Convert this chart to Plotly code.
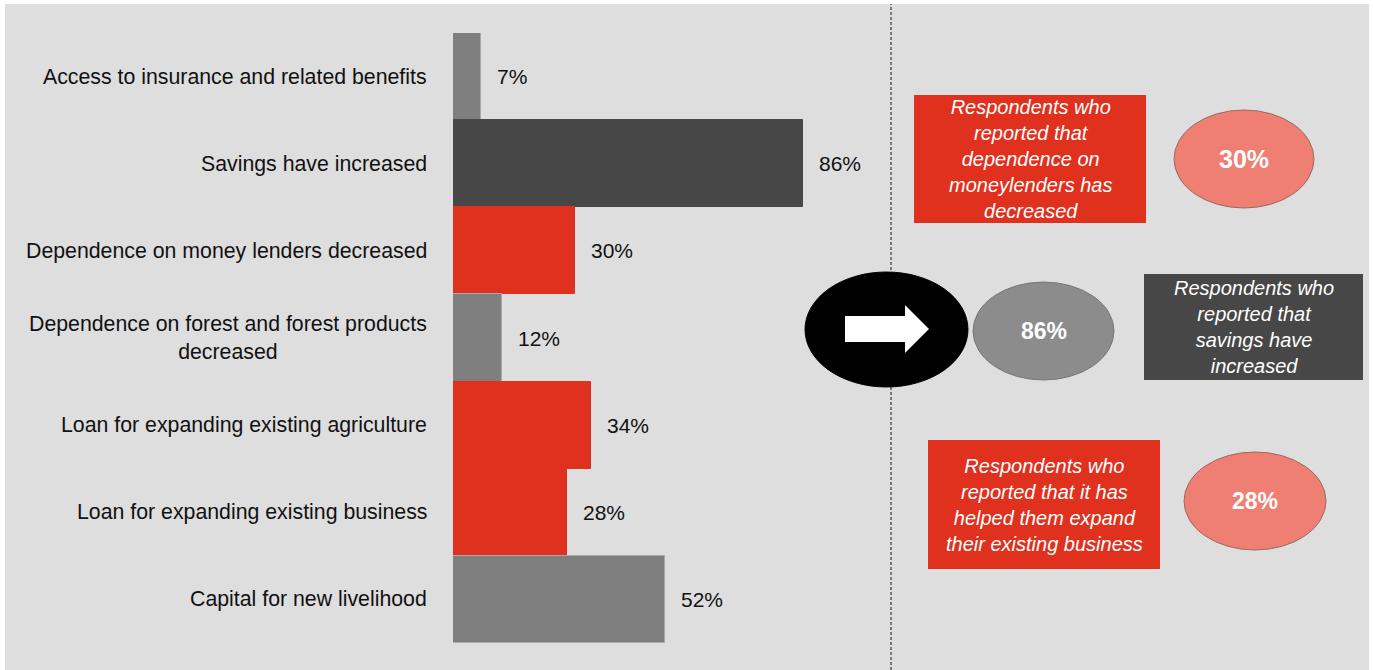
import plotly.graph_objects as go

# Survey results: share of respondents reporting each benefit
categories = [
    "Access to insurance and related benefits",
    "Savings have increased",
    "Dependence on money lenders decreased",
    "Dependence on forest and forest products<br>decreased",
    "Loan for expanding existing agriculture",
    "Loan for expanding existing business",
    "Capital for new livelihood",
]
values = [7, 86, 30, 12, 34, 28, 52]

GREY = "#7f7f7f"
DARK = "#474747"
RED = "#e0301e"
PINK = "#ee7f72"
bar_colors = [GREY, DARK, RED, GREY, RED, RED, GREY]
bar_lines = ["#a8a8a8", DARK, RED, "#a8a8a8", RED, RED, "#a8a8a8"]

W, H = 1374, 670
FONT = "Liberation Sans, Arial, sans-serif"


def fx(p):
    return p / W


def fy(p):
    return 1 - p / H


fig = go.Figure(
    go.Bar(
        x=values,
        y=categories,
        orientation="h",
        marker=dict(color=bar_colors, line=dict(color=bar_lines, width=1)),
        hoverinfo="skip",
    )
)

annotations = []
for cat, v in zip(categories, values):
    annotations.append(dict(
        x=fx(429), xref="paper", y=cat, yref="y", text=cat,
        xanchor="right", yanchor="middle", align="center", showarrow=False,
        font=dict(family=FONT, size=21.3, color="#111111"),
    ))
    annotations.append(dict(
        x=v, xref="x", y=cat, yref="y", text=f"{v}%",
        xanchor="left", yanchor="middle", xshift=14, showarrow=False,
        font=dict(family=FONT, size=21, color="#111111"),
    ))

shapes = [
    # panel background
    dict(type="rect", xref="paper", yref="paper", x0=fx(5), x1=fx(1369),
         y0=fy(670), y1=fy(4), fillcolor="#dedede", line_width=0, layer="below"),
    # divider
    dict(type="line", xref="paper", yref="paper", x0=fx(891), x1=fx(891),
         y0=fy(670), y1=fy(4), line=dict(color="#111111", width=1, dash="3px,2px"),
         layer="below"),
    # black arrow badge
    dict(type="circle", xref="paper", yref="paper", x0=fx(805), x1=fx(968),
         y0=fy(387), y1=fy(272), fillcolor="black", line=dict(color="black", width=1)),
]

arrow_pts = [(845, 316), (905, 316), (905, 305), (929, 329), (905, 353),
             (905, 342), (845, 342)]
path = "M " + " L ".join(f"{fx(a):.5f},{fy(b):.5f}" for a, b in arrow_pts) + " Z"
shapes.append(dict(type="path", xref="paper", yref="paper", path=path,
                   fillcolor="white", line_width=0))

# callouts: (box rect, box colour, text lines, ellipse rect, ellipse colour, value)
idx_lenders = categories.index("Dependence on money lenders decreased")
idx_savings = categories.index("Savings have increased")
idx_business = categories.index("Loan for expanding existing business")
callouts = [
    ((914, 95, 1146, 223), RED,
     ["Respondents who", "reported that", "dependence on", "moneylenders has", "decreased"],
     (1174, 110, 1314, 208), PINK, "#9a6a62", values[idx_lenders], 25),
    ((1144, 274, 1363, 380), DARK,
     ["Respondents who", "reported that", "savings have", "increased"],
     (973, 282, 1114, 380), "#8c8c8c", "#777777", values[idx_savings], 23),
    ((928, 440, 1160, 569), RED,
     ["Respondents who", "reported that it has", "helped them expand", "their existing business"],
     (1184, 452, 1326, 550), PINK, "#9a6a62", values[idx_business], 23),
]

for (bx0, by0, bx1, by1), bcol, lines, (ex0, ey0, ex1, ey1), ecol, eline, val, vsize in callouts:
    shapes.append(dict(type="rect", xref="paper", yref="paper", x0=fx(bx0), x1=fx(bx1),
                       y0=fy(by1), y1=fy(by0), fillcolor=bcol, line_width=0))
    shapes.append(dict(type="circle", xref="paper", yref="paper", x0=fx(ex0), x1=fx(ex1),
                       y0=fy(ey1), y1=fy(ey0), fillcolor=ecol, line=dict(color=eline, width=1)))
    annotations.append(dict(
        x=fx((bx0 + bx1) / 2), y=fy((by0 + by1) / 2), xref="paper", yref="paper",
        text="<i>" + "<br>".join(lines) + "</i>", align="center", showarrow=False,
        xanchor="center", yanchor="middle",
        font=dict(family=FONT, size=20, color="white"),
    ))
    annotations.append(dict(
        x=fx((ex0 + ex1) / 2), y=fy((ey0 + ey1) / 2), xref="paper", yref="paper",
        text=f"<b>{val}%</b>", showarrow=False, xanchor="center", yanchor="middle",
        font=dict(family=FONT, size=vsize, color="white"),
    ))

fig.update_layout(
    width=W, height=H,
    margin=dict(l=0, r=0, t=0, b=0),
    paper_bgcolor="white",
    plot_bgcolor="rgba(0,0,0,0)",
    bargap=0,
    showlegend=False,
    xaxis=dict(domain=[fx(453), fx(860)], range=[0, 100], visible=False, fixedrange=True),
    yaxis=dict(domain=[fy(643), fy(33)], range=[6.5, -0.5], visible=False,
               categoryorder="array", categoryarray=categories, fixedrange=True),
    shapes=shapes,
    annotations=annotations,
)

fig.write_html("out.html", config={"displayModeBar": False})
